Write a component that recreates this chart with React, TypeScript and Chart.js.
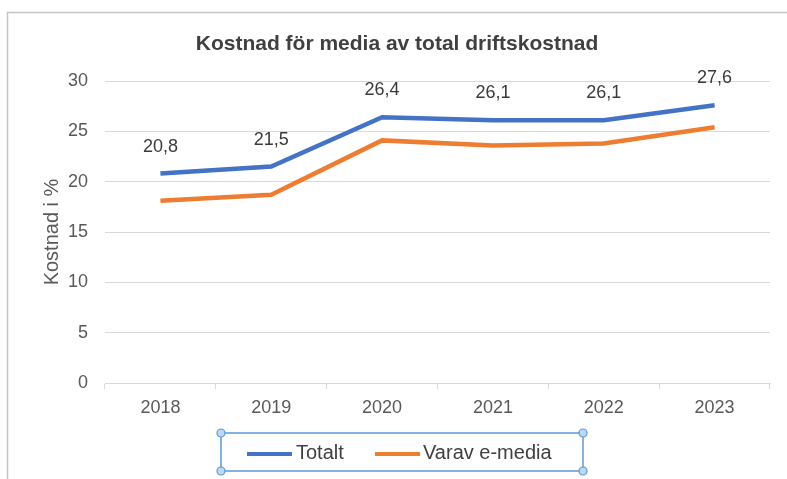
import React, { useEffect, useRef } from "react";
import { Chart, registerables } from "chart.js";

Chart.register(...registerables);

const categories = ["2018", "2019", "2020", "2021", "2022", "2023"];
const totalt = [20.8, 21.5, 26.4, 26.1, 26.1, 27.6];
const varavEmedia = [18.1, 18.7, 24.1, 23.6, 23.8, 25.4];
const seriesNames = ["Totalt", "Varav e-media"];
const chartTitle = "Kostnad för media av total driftskostnad";
const yAxisTitle = "Kostnad i %";

const FONT = "'Liberation Sans', Arial, Helvetica, sans-serif";

const decorPlugin = {
  id: "decor",
  beforeDraw(chart: any) {
    const ctx = chart.ctx;
    ctx.save();
    ctx.fillStyle = "#ffffff";
    ctx.fillRect(0, 0, chart.width, chart.height);
    ctx.strokeStyle = "#c4c4c4";
    ctx.lineWidth = 1.5;
    ctx.strokeRect(7.5, 12.5, chart.width + 20, chart.height + 20);
    ctx.restore();
  },
  afterDraw(chart: any) {
    const ctx = chart.ctx;
    ctx.save();
    // title
    ctx.fillStyle = "#404040";
    ctx.font = `bold 21px ${FONT}`;
    ctx.textAlign = "center";
    ctx.textBaseline = "middle";
    ctx.fillText(chartTitle, 397, 44);

    // data labels for first series
    const meta = chart.getDatasetMeta(0);
    ctx.font = `18px ${FONT}`;
    ctx.fillStyle = "#3a3a3a";
    meta.data.forEach((pt: any, i: number) => {
      const v = chart.data.datasets[0].data[i] as number;
      ctx.fillText(v.toFixed(1).replace(".", ","), pt.x, pt.y - 27);
    });

    // legend
    const items = [
      { x: 247, textX: 296 },
      { x: 375, textX: 423 },
    ];
    ctx.textAlign = "left";
    ctx.font = `20px ${FONT}`;
    chart.data.datasets.forEach((ds: any, i: number) => {
      const it = items[i];
      ctx.strokeStyle = ds.borderColor;
      ctx.lineWidth = 4;
      ctx.beginPath();
      ctx.moveTo(it.x, 454);
      ctx.lineTo(it.x + 45, 454);
      ctx.stroke();
      ctx.fillStyle = "#404040";
      ctx.fillText(ds.label, it.textX, 453);
    });

    // selection box
    const L = 221, R = 583, T = 433, B = 471;
    ctx.strokeStyle = "#5b9bd5";
    ctx.lineWidth = 1.5;
    ctx.strokeRect(L, T, R - L, B - T);
    [[L, T], [R, T], [L, B], [R, B]].forEach(([x, y]) => {
      ctx.beginPath();
      ctx.arc(x, y, 4, 0, Math.PI * 2);
      ctx.fillStyle = "#bcd8f2";
      ctx.fill();
      ctx.strokeStyle = "#5b9bd5";
      ctx.lineWidth = 1.2;
      ctx.stroke();
    });
    ctx.restore();
  },
};

export default function App() {
  const ref = useRef<HTMLCanvasElement | null>(null);
  useEffect(() => {
    if (!ref.current) return;
    const chart = new Chart(ref.current, {
      type: "line",
      data: {
        labels: categories,
        datasets: [
          {
            label: seriesNames[0],
            data: totalt,
            borderColor: "#4472c4",
            backgroundColor: "#4472c4",
            borderWidth: 4.5,
            pointRadius: 0,
            tension: 0,
          },
          {
            label: seriesNames[1],
            data: varavEmedia,
            borderColor: "#ed7d31",
            backgroundColor: "#ed7d31",
            borderWidth: 4.5,
            pointRadius: 0,
            tension: 0,
          },
        ],
      },
      options: {
        animation: false,
        responsive: false,
        maintainAspectRatio: false,
        layout: { padding: { left: 40, right: 17, top: 81, bottom: 46 } },
        plugins: {
          legend: { display: false },
          title: { display: false },
          tooltip: { enabled: false },
        },
        scales: {
          x: {
            offset: true,
            grid: {
              offset: true,
              drawOnChartArea: false,
              drawTicks: true,
              tickLength: 6,
              color: "#d9d9d9",
            },
            border: { color: "#d9d9d9", width: 1 },
            ticks: {
              color: "#595959",
              font: { family: FONT, size: 18 },
              padding: 8,
              maxRotation: 0,
            },
            afterFit(scale: any) {
              scale.height = 50;
            },
          },
          y: {
            min: 0,
            max: 30,
            ticks: {
              stepSize: 5,
              color: "#595959",
              font: { family: FONT, size: 18 },
              padding: 17,
            },
            grid: { color: "#d9d9d9", drawTicks: false },
            border: { display: false },
            title: {
              display: true,
              text: yAxisTitle,
              color: "#595959",
              font: { family: FONT, size: 20 },
              padding: 0,
            },
            afterFit(scale: any) {
              scale.width = 65;
            },
          },
        },
      },
      plugins: [decorPlugin],
    });
    return () => chart.destroy();
  }, []);
  return (
    <div style={{ position: "fixed", left: 0, top: 0, width: 787, height: 479 }}>
      <canvas ref={ref} width={787} height={479} style={{ display: "block" }} />
    </div>
  );
}
